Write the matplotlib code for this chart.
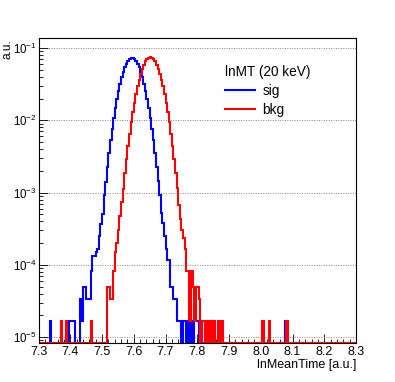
import numpy as np
import matplotlib
matplotlib.use("Agg")
import matplotlib.pyplot as plt
from matplotlib.lines import Line2D
from matplotlib.ticker import MultipleLocator, LogLocator

plt.rcParams["font.family"] = ["Liberation Sans", "DejaVu Sans"]
plt.rcParams["mathtext.default"] = "regular"

# histogram binning (200 bins of 0.005 between 7.3 and 8.3)
x_min, x_max, n_bins = 7.3, 8.3, 200
# one entry ~ 1.67e-5 in a.u.
entry_weight = 1.0 / 60000

# entries per bin
sig_counts = [
    0, 0, 0, 0, 0, 0, 0, 1, 0, 0, 0, 0, 0, 0, 0, 0, 0, 0, 0, 1,
    1, 1, 1, 0, 0, 0, 2, 1, 3, 3, 2, 2, 2, 5, 8, 8, 9, 10, 15, 22,
    30, 55, 84, 137, 211, 315, 458, 646, 886, 1181, 1530, 1926, 2355, 2798, 3230, 3623, 3949, 4183, 4305, 4305,
    4183, 3949, 3623, 3230, 2798, 2355, 1926, 1530, 1181, 886, 646, 458, 315, 211, 137, 87, 56, 31, 23, 15,
    10, 7, 7, 3, 3, 2, 2, 1, 1, 1, 0, 1, 1, 0, 1, 0, 1, 0, 1, 1,
    1, 0, 1, 0, 0, 0, 0, 0, 0, 1, 0, 0, 0, 0, 0, 0, 0, 0, 0, 0,
    0, 0, 0, 0, 0, 0, 0, 0, 0, 0, 0, 0, 0, 0, 0, 0, 0, 0, 0, 0,
    0, 0, 0, 0, 0, 0, 0, 0, 0, 0, 0, 0, 0, 0, 0, 1, 0, 0, 0, 0,
    0, 0, 0, 0, 0, 0, 0, 0, 0, 0, 0, 0, 0, 0, 0, 0, 0, 0, 0, 0,
    0, 0, 0, 0, 0, 0, 0, 0, 0, 0, 0, 0, 0, 0, 0, 0, 0, 0, 0, 0,
]
bkg_counts = [
    0, 0, 0, 0, 0, 0, 0, 0, 0, 0, 0, 0, 0, 0, 1, 0, 0, 1, 0, 0,
    0, 0, 0, 0, 0, 0, 0, 0, 0, 0, 0, 0, 0, 1, 0, 0, 0, 0, 0, 0,
    0, 0, 0, 3, 3, 2, 2, 5, 9, 12, 18, 28, 44, 68, 112, 176, 266, 392, 561, 781,
    1056, 1388, 1771, 2197, 2648, 3101, 3528, 3901, 4192, 4376, 4440, 4376, 4192, 3901, 3528, 3101, 2648, 2197, 1771, 1388,
    1056, 781, 561, 392, 266, 176, 112, 70, 40, 26, 18, 14, 10, 5, 5, 1, 5, 3, 1, 3,
    3, 2, 0, 1, 1, 0, 1, 0, 1, 0, 1, 0, 0, 1, 0, 1, 0, 0, 0, 0,
    0, 0, 0, 0, 0, 0, 0, 0, 0, 0, 0, 0, 0, 0, 0, 0, 0, 0, 0, 0,
    0, 1, 0, 0, 0, 1, 0, 0, 0, 0, 0, 0, 0, 0, 0, 0, 1, 0, 0, 0,
    0, 0, 0, 0, 0, 0, 0, 0, 0, 0, 0, 0, 0, 0, 0, 0, 0, 0, 0, 0,
    0, 0, 0, 0, 0, 0, 0, 0, 0, 0, 0, 0, 0, 0, 0, 0, 0, 0, 0, 0,
]
labels = ["sig", "bkg"]
colors = ["#0000ff", "#ff0000"]
legend_title = "lnMT (20 keV)"

y_lo, y_hi = 8.3e-6, 0.136
edges = np.linspace(x_min, x_max, n_bins + 1)

fig = plt.figure(figsize=(3.95, 3.82), dpi=100)
ax = fig.add_axes([0.0975, 0.1021, 0.8038, 0.7976])
ax.set_yscale("log")

# empty bins are drawn on the bottom of the frame, like ROOT does
for counts, col in zip([sig_counts, bkg_counts], colors):
    vals = np.array(counts) * entry_weight
    vals = np.where(vals > 0, vals, y_lo)
    ax.stairs(vals, edges, color=col, linewidth=1.5, baseline=None)

ax.set_xlim(x_min, x_max)
ax.set_ylim(y_lo, y_hi)

ax.xaxis.set_major_locator(MultipleLocator(0.1))
ax.xaxis.set_minor_locator(MultipleLocator(0.02))
ax.yaxis.set_major_locator(LogLocator(base=10))
ax.yaxis.set_minor_locator(LogLocator(base=10, subs=np.arange(2, 10)))
ax.tick_params(which="both", direction="in", top=False, right=False)
ax.tick_params(which="major", length=6.5, width=0.6)
ax.tick_params(which="minor", length=3.2, width=0.6)
ax.tick_params(axis="x", pad=2.5, labelsize=9)
ax.tick_params(axis="y", pad=1.5, labelsize=8.3)

ax.yaxis.grid(True, which="major", linestyle=(0, (1, 1.5)), color="#888888", linewidth=0.7)
ax.set_axisbelow(True)
for s in ax.spines.values():
    s.set_linewidth(0.8)

ax.set_xlabel("lnMeanTime [a.u.]", fontsize=9, ha="right")
ax.xaxis.set_label_coords(1.0, -0.053)
fig.text(0.003, 1 - 39.5 / 382, "a.u.", rotation=90, ha="left", va="top", fontsize=8.6)

handles = [Line2D([], [], color=c, linewidth=1.5) for c in colors]
ax.legend(handles, labels, title=legend_title, frameon=False, loc="upper left",
          bbox_to_anchor=(0.587, 0.912), fontsize=9.8, title_fontsize=9.8,
          handlelength=2.2, handletextpad=0.55, labelspacing=0.35,
          alignment="left", borderpad=0, borderaxespad=0)

fig.savefig("out.png", dpi=100)
